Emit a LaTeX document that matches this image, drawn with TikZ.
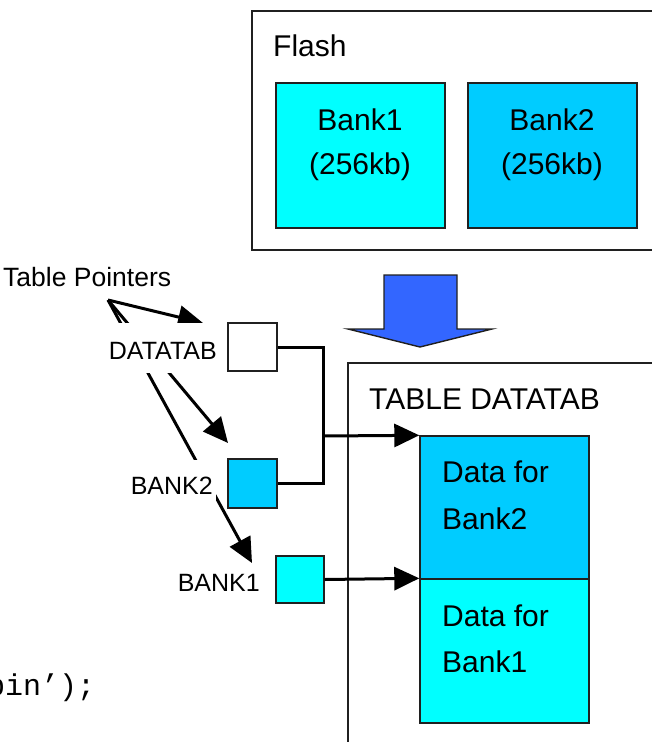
\documentclass[tikz,border=0pt]{standalone}
\usepackage{fontspec}
\setmainfont{Liberation Sans}
\newfontfamily\codefont{Liberation Mono}
\usetikzlibrary{arrows.meta}
\definecolor{bankone}{HTML}{00FFFF}
\definecolor{banktwo}{HTML}{00CCFF}
\definecolor{bigarrow}{HTML}{3366FF}
\definecolor{edge}{HTML}{202020}
\tikzset{
  frame/.style={draw=edge, line width=1.4bp},
  cell/.style={draw=edge, line width=1.4bp, minimum width=#1, inner sep=0pt},
  txt/.style={inner sep=0pt, font=\fontsize{30bp}{36bp}\selectfont},
  lbl/.style={fill=white, inner xsep=3bp, inner ysep=0pt, font=\fontsize{25bp}{30bp}\selectfont},
  conn/.style={line width=3bp},
  arr/.style={line width=3bp, -{Triangle[length=25bp,width=23bp]}},
}
\begin{document}
\begin{tikzpicture}[x=1bp,y=-1bp]
\useasboundingbox (0,0) rectangle (652,742);
% Flash
\draw[frame] (252,11) rectangle (670,250);
\node[txt, anchor=base west] (flash) at (273,57) {Flash};
\node[cell=169bp, minimum height=145bp, fill=bankone] (fb1) at (360.5,155.5) {};
\node[cell=169bp, minimum height=145bp, fill=banktwo] (fb2) at (552.5,155.5) {};
\node[txt, anchor=base] (fb1a) at (360,130) {Bank1};
\node[txt, anchor=base] (fb1b) at (360,174) {(256kb)};
\node[txt, anchor=base] (fb2a) at (552,130) {Bank2};
\node[txt, anchor=base] (fb2b) at (552,174) {(256kb)};
% big arrow
\draw[edge, line width=1.4bp, fill=bigarrow] (384,275) -- (457,275) -- (457,329) -- (492,329)
  -- (420,347) -- (348,329) -- (384,329) -- cycle;
% Table
\draw[frame] (348,363) rectangle (670,760);
\node[txt, anchor=base west] (ttl) at (369,409) {TABLE DATATAB};
\node[cell=169bp, minimum height=143bp, fill=banktwo] (d2) at (504.5,507.5) {};
\node[cell=169bp, minimum height=144bp, fill=bankone] (d1) at (504.5,651) {};
\node[txt, anchor=base west] (d2a) at (442,482) {Data for};
\node[txt, anchor=base west] (d2b) at (442,529) {Bank2};
\node[txt, anchor=base west] (d1a) at (442,626) {Data for};
\node[txt, anchor=base west] (d1b) at (442,672) {Bank1};
% pointer squares
\node[cell=49bp, minimum height=48bp, fill=white] (dt) at (252.5,347) {};
\node[cell=49bp, minimum height=49bp, fill=banktwo] (b2) at (252.5,483.5) {};
\node[cell=48bp, minimum height=47bp, fill=bankone] (b1) at (300,579.5) {};
% connectors
\coordinate (j) at (323,436);
\draw[conn] (dt.east) -| (j) |- (b2.east);
\draw[arr] (j) -- (d2.north west);
\draw[arr] (b1.east) -- (d1.north west);
% table pointers
\node[inner sep=0pt, anchor=base west, font=\fontsize{26.5bp}{30bp}\selectfont] (tp) at (3,286) {Table Pointers};
\coordinate (tpo) at (108,300);
\coordinate (tdt) at (203,323);
\coordinate (tb2) at (228,443);
\coordinate (tb1) at (252,563);
\draw[arr] (tpo) -- (tdt);
\draw[arr] (tpo) -- (tb2);
\draw[arr] (tpo) -- (tb1);
\node[lbl, anchor=base east, text height=36bp, text depth=14bp] (ldt) at (220,359) {DATATAB};
\node[lbl, anchor=base east, text height=34bp, text depth=14bp] (lb2) at (216,494) {BANK2};
\node[lbl, anchor=base east, fill=none, inner xsep=0pt] (lb1) at (260,591) {BANK1};
% code fragment
\node[inner sep=0pt, anchor=base west, font=\codefont\fontsize{30bp}{36bp}\selectfont] (code) at (-13,695) {pin’);};
\end{tikzpicture}
\end{document}
